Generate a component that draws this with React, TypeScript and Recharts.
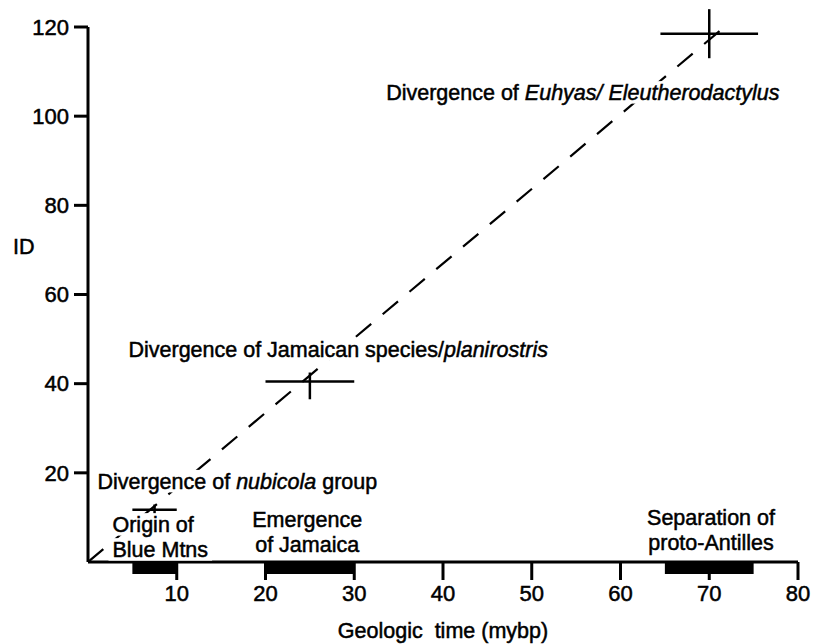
import { ComposedChart, XAxis, YAxis, Line, Scatter, ErrorBar, ReferenceArea, LabelList } from 'recharts';

// axis ticks
const timeTicks = [10, 20, 30, 40, 50, 60, 70, 80];
const idTicks = [20, 40, 60, 80, 100, 120];

// divergence estimates: geologic time (mybp) vs ID, with ranges
const divTime = [7.5, 25, 70];
const divId = [11.7, 40.5, 118.5];
const divTimeErr = [2.5, 5, 5.5];
const divIdErr: [number, number][] = [[1.2, 1.2], [4, 2], [5.5, 5.5]];

// geologic events drawn as black bars under the time axis
const eventStart = [5, 20, 65];
const eventEnd = [10, 30, 75];

// dashed calibration line
const trendTime = [0, 72.3];
const trendId = [0, 121];

type Seg = { t: string; i?: boolean };
// annotation texts (each line is a list of segments, italic where needed)
const noteLines: Seg[][][] = [
  [[{ t: 'Divergence of ' }, { t: 'Euhyas/ Eleutherodactylus', i: true }]],
  [[{ t: 'Divergence of Jamaican species/' }, { t: 'planirostris', i: true }]],
  [[{ t: 'Divergence of ' }, { t: 'nubicola', i: true }, { t: ' group' }]],
  [[{ t: 'Origin of' }], [{ t: 'Blue Mtns' }]],
  [[{ t: 'Emergence' }], [{ t: 'of Jamaica' }]],
  [[{ t: 'Separation of' }], [{ t: 'proto-Antilles' }]],
];
// where each annotation sits, in data units (first baseline)
const noteTime = [33.6, 4.56, 1.07, 2.76, 24.7, 70.2];
const noteId = [103.6, 46.0, 16.4, 6.7, 7.85, 8.3];
const noteAnchor = ['start', 'start', 'start', 'start', 'middle', 'middle'];

const divData = divTime.map((x, i) => ({ x, y: divId[i], ex: divTimeErr[i], ey: divIdErr[i] }));
const trendData = trendTime.map((x, i) => ({ x, y: trendId[i] }));
const noteData = noteLines.map((lines, i) => ({ x: noteTime[i], y: noteId[i], lines, anchor: noteAnchor[i] }));

const FONT = 21.5;
const LINE_H = 25;
const FAMILY = '"Liberation Sans", Arial, Helvetica, sans-serif';
const ink = { fill: '#000', stroke: '#000', strokeWidth: 0.5 };

let ctx: CanvasRenderingContext2D | null = null;
function lineWidth(segs: Seg[]) {
  if (!ctx) ctx = document.createElement('canvas').getContext('2d');
  if (!ctx) return segs.reduce((s, g) => s + g.t.length * FONT * 0.52, 0);
  let w = 0;
  for (const s of segs) {
    ctx.font = `${s.i ? 'italic ' : ''}${FONT}px ${FAMILY}`;
    w += ctx.measureText(s.t).width;
  }
  return w;
}

// text with a white backing, anchored at the scatter point of the note
function NoteLabel(props: any) {
  const { viewBox, index } = props;
  const note = noteData[index];
  if (!viewBox || !note) return null;
  const cx = viewBox.x + (viewBox.width || 0) / 2;
  const cy = viewBox.y + (viewBox.height || 0) / 2;
  return (
    <g>
      {note.lines.map((segs, li) => {
        const w = lineWidth(segs);
        const left = note.anchor === 'middle' ? cx - w / 2 : cx;
        const base = cy + li * LINE_H;
        return <rect key={'r' + li} x={left - 4} y={base - 19} width={w + 8} height={22.5} fill="#fff" />;
      })}
      <text x={cx} y={cy} textAnchor={note.anchor as any} fontSize={FONT} {...ink}>
        {note.lines.map((segs, li) => (
          <tspan key={li} x={cx} dy={li === 0 ? 0 : LINE_H}>
            {segs.map((s, si) => (
              <tspan key={si} fontStyle={s.i ? 'italic' : 'normal'}>{s.t}</tspan>
            ))}
          </tspan>
        ))}
      </text>
    </g>
  );
}

const axisStroke = { stroke: '#000', strokeWidth: 3 };

export default function App() {
  return (
    <div style={{ position: 'absolute', left: 0, top: 0, background: '#fff', fontFamily: FAMILY }}>
      <ComposedChart width={813} height={644} margin={{ top: 27, right: 15, bottom: 0, left: 0 }}>
        <XAxis
          type="number"
          dataKey="x"
          domain={[0, 80]}
          ticks={timeTicks}
          allowDataOverflow
          height={82}
          axisLine={axisStroke}
          tickLine={axisStroke}
          tickSize={18}
          tickMargin={5}
          tick={{ ...ink, fontSize: 22 }}
          label={{ value: 'Geologic\u00A0 time (mybp)', position: 'insideBottom', offset: 6, ...ink, fontSize: FONT }}
        />
        <YAxis
          type="number"
          dataKey="y"
          domain={[0, 120]}
          ticks={idTicks}
          allowDataOverflow
          width={88}
          axisLine={axisStroke}
          tickLine={axisStroke}
          tickSize={14}
          tickMargin={5}
          tick={{ ...ink, fontSize: 22 }}
          label={{
            content: () => (
              <text x={13} y={254} fontSize={FONT} {...ink}>ID</text>
            ),
          }}
        />
        {eventStart.map((s, i) => (
          <ReferenceArea
            key={i}
            x1={s}
            x2={eventEnd[i]}
            y1={-2.7}
            y2={0}
            ifOverflow="visible"
            fill="#000"
            fillOpacity={1}
            stroke="none"
          />
        ))}
        <Line
          data={trendData}
          dataKey="y"
          type="linear"
          stroke="#000"
          strokeWidth={2.2}
          strokeDasharray="20 15"
          dot={false}
          activeDot={false}
          isAnimationActive={false}
        />
        <Scatter data={noteData} dataKey="y" shape={() => <g />} isAnimationActive={false}>
          <LabelList dataKey="y" content={(p: any) => <NoteLabel {...p} />} />
        </Scatter>
        <Scatter data={divData} dataKey="y" shape={() => <g />} isAnimationActive={false}>
          <ErrorBar dataKey="ex" direction="x" width={0} stroke="#000" strokeWidth={2.5} />
          <ErrorBar dataKey="ey" direction="y" width={0} stroke="#000" strokeWidth={2.5} />
        </Scatter>
      </ComposedChart>
    </div>
  );
}
